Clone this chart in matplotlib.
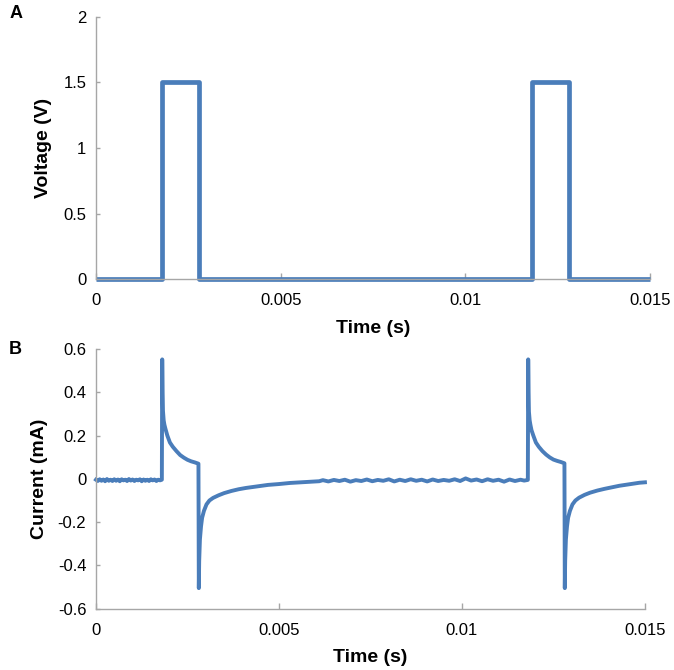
import matplotlib
matplotlib.use("Agg")
import matplotlib.pyplot as plt

plt.rcParams['font.family'] = ['Liberation Sans', 'DejaVu Sans']

# ---- Data ----
# Panel A: voltage pulses
t_volt = [0.0, 0.0018, 0.0018, 0.0028, 0.0028, 0.0118, 0.0118, 0.0128, 0.0128, 0.015]
volt   = [0.0, 0.0,    1.5,    1.5,    0.0,    0.0,    1.5,    1.5,    0.0,    0.0]

# Panel B: measured current
# baseline before first pulse
t_base1 = [0.0, 0.00005, 0.0001, 0.00015, 0.0002, 0.00025, 0.0003, 0.00035, 0.0004, 0.00045,
           0.0005, 0.00055, 0.0006, 0.00065, 0.0007, 0.00075, 0.0008, 0.00085, 0.0009, 0.00095,
           0.0010, 0.00105, 0.0011, 0.00115, 0.0012, 0.00125, 0.0013, 0.00135, 0.0014, 0.00145,
           0.0015, 0.00155, 0.0016, 0.00165, 0.0017, 0.00175, 0.0018]
i_base1 = [-0.004, -0.010, -0.002, -0.009, -0.003, -0.011, -0.001, -0.009, -0.004, -0.010,
           -0.002, -0.009, -0.003, -0.011, -0.002, -0.007, -0.004, -0.010, -0.001, -0.008,
           -0.003, -0.010, -0.004, -0.007, -0.002, -0.011, -0.003, -0.009, -0.004, -0.010,
           -0.002, -0.007, -0.003, -0.010, -0.004, -0.007, -0.004]
# first pulse response
t_pulse1 = [0.00181, 0.00182, 0.00183, 0.00185, 0.00187, 0.00190, 0.00195, 0.00202, 0.00210,
            0.00220, 0.00230, 0.00240, 0.00250, 0.00260, 0.00270, 0.00280,
            0.00281, 0.00282, 0.00284, 0.00287, 0.00290, 0.00295, 0.00302, 0.00310,
            0.00320, 0.00335, 0.00350, 0.00370, 0.00390, 0.00410, 0.00440, 0.00470,
            0.00500, 0.00530, 0.00560, 0.00590, 0.00610]
i_pulse1 = [0.552, 0.40, 0.315, 0.27, 0.25, 0.23, 0.20, 0.168, 0.148,
            0.128, 0.110, 0.098, 0.088, 0.081, 0.076, 0.070,
            -0.505, -0.38, -0.28, -0.22, -0.18, -0.148, -0.118, -0.100,
            -0.088, -0.076, -0.066, -0.056, -0.048, -0.042, -0.035, -0.028,
            -0.024, -0.019, -0.016, -0.013, -0.011]
# baseline between pulses
t_base2 = [0.0062, 0.00635, 0.0065, 0.00665, 0.0068, 0.00695, 0.0071, 0.00725, 0.0074, 0.00755,
           0.0077, 0.00785, 0.0080, 0.00815, 0.0083, 0.00845, 0.0086, 0.00875, 0.0089, 0.00905,
           0.0092, 0.00935, 0.0095, 0.00965, 0.0098, 0.00995, 0.0101, 0.01025, 0.0104, 0.01055,
           0.0107, 0.01085, 0.0110, 0.01115, 0.0113, 0.01145, 0.0116, 0.0117, 0.0118]
i_base2 = [-0.006, -0.012, -0.005, -0.010, -0.004, -0.013, -0.006, -0.010, -0.003, -0.011,
           -0.005, -0.009, -0.002, -0.012, -0.004, -0.010, -0.002, -0.009, -0.004, -0.012,
           -0.003, -0.010, -0.005, -0.009, -0.002, -0.010, 0.002, -0.008, -0.003, -0.011,
           -0.002, -0.009, -0.004, -0.013, -0.003, -0.010, -0.004, -0.008, -0.005]
# second pulse response
t_pulse2 = [0.01181, 0.01182, 0.01183, 0.01185, 0.01187, 0.01190, 0.01195, 0.01202, 0.01210,
            0.01220, 0.01230, 0.01240, 0.01250, 0.01260, 0.01270, 0.01280,
            0.01281, 0.01282, 0.01284, 0.01287, 0.01290, 0.01295, 0.01302, 0.01310,
            0.01320, 0.01335, 0.01350, 0.01370, 0.01390, 0.01410, 0.01430, 0.01450,
            0.01470, 0.01485, 0.01500]
i_pulse2 = [0.552, 0.40, 0.31, 0.27, 0.25, 0.225, 0.20, 0.168, 0.148,
            0.128, 0.112, 0.099, 0.089, 0.083, 0.078, 0.072,
            -0.505, -0.38, -0.28, -0.22, -0.18, -0.148, -0.118, -0.100,
            -0.087, -0.074, -0.064, -0.054, -0.046, -0.039, -0.032, -0.027,
            -0.022, -0.018, -0.016]

t_cur = t_base1 + t_pulse1 + t_base2 + t_pulse2
i_cur = i_base1 + i_pulse1 + i_base2 + i_pulse2

xticks = [0, 0.005, 0.01, 0.015]
xtick_labels = ["0", "0.005", "0.01", "0.015"]
yticks_a = [0, 0.5, 1, 1.5, 2]
ytick_labels_a = ["0", "0.5", "1", "1.5", "2"]
yticks_b = [-0.6, -0.4, -0.2, 0, 0.2, 0.4, 0.6]
ytick_labels_b = ["-0.6", "-0.4", "-0.2", "0", "0.2", "0.4", "0.6"]

# ---- Styling ----
line_color = "#4A7DBA"
spine_color = "#A6A6A6"

fig = plt.figure(figsize=(6.74, 6.70), dpi=100)
ax1 = fig.add_axes([0.1424, 0.583, 0.822, 0.392])
ax2 = fig.add_axes([0.1424, 0.0915, 0.8145, 0.3876])


def style(ax):
    for s in ["top", "right"]:
        ax.spines[s].set_visible(False)
    for s in ["left", "bottom"]:
        ax.spines[s].set_color(spine_color)
        ax.spines[s].set_linewidth(1.0)
    ax.tick_params(axis="x", direction="in", length=4.5, width=1.0, color=spine_color,
                   labelsize=12, pad=10)
    ax.tick_params(axis="y", direction="in", length=3, width=1.0, color=spine_color,
                   labelsize=12, pad=7)


ax1.plot(t_volt, volt, color=line_color, lw=3.4, solid_joinstyle="round",
         solid_capstyle="butt", clip_on=False)
ax1.set_xlim(0, 0.015)
ax1.set_ylim(0, 2)
ax1.set_xticks(xticks, xtick_labels)
ax1.set_yticks(yticks_a, ytick_labels_a)
style(ax1)
ax1.set_xlabel("Time (s)", fontsize=14, fontweight="bold", labelpad=8.5)
ax1.set_ylabel("Voltage (V)", fontsize=14, fontweight="bold", labelpad=8)

ax2.plot(t_cur, i_cur, color=line_color, lw=2.8, solid_joinstyle="round", clip_on=False)
ax2.set_xlim(0, 0.015)
ax2.set_ylim(-0.6, 0.6)
ax2.set_xticks(xticks, xtick_labels)
ax2.set_yticks(yticks_b, ytick_labels_b)
style(ax2)
ax2.set_xlabel("Time (s)", fontsize=14, fontweight="bold", labelpad=8.5)
ax2.set_ylabel("Current (mA)", fontsize=14, fontweight="bold", labelpad=7)

fig.text(10 / 674, 1 - 13 / 670, "A", fontsize=13, fontweight="bold", ha="left", va="center")
fig.text(9 / 674, 1 - 350 / 670, "B", fontsize=13, fontweight="bold", ha="left", va="center")

fig.savefig("out.png", dpi=100)
